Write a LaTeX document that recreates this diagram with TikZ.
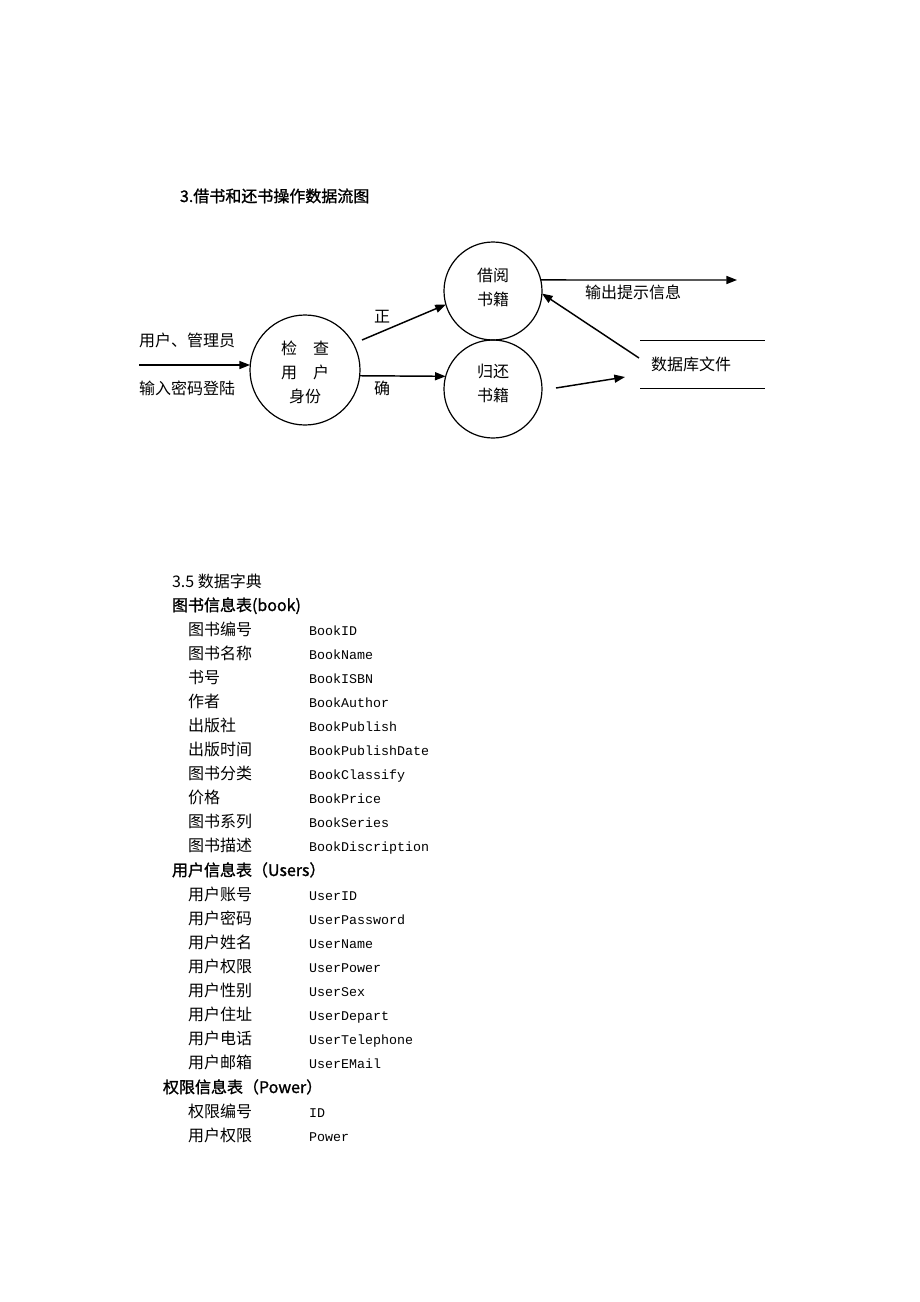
\documentclass[tikz,border=0pt]{standalone}
\usepackage{fontspec}
\setmainfont{Noto Sans CJK SC}
\setmonofont{Liberation Mono}
\newfontfamily\cjkbold[FakeBold=1.2]{Noto Sans CJK SC}
\usetikzlibrary{arrows.meta}

\begin{document}
\begin{tikzpicture}[x=0.75pt, y=-0.75pt,
		font=\fontsize{12}{18}\selectfont,
		every node/.style={inner sep=0pt, outer sep=0pt},
		txt/.style={anchor=base west},
		mid/.style={anchor=base},
		field/.style={anchor=base west, font=\ttfamily\fontsize{10}{12}\selectfont},
		head/.style={anchor=base west, font=\cjkbold\fontsize{12}{14}\selectfont},
		proc/.style={draw, circle, line width=0.9pt, minimum size=73.5pt},
		inside/.style 2 args={label={[align=center, yshift=#1]center:#2}},
		flow/.style={line width=1.1pt, -{Triangle[length=8pt, width=6pt]}}]
		%%%%% START %%%%%
		
		\useasboundingbox (0, 0) rectangle (920, 1302);
		
		\node[head] (title) at (180, 202) {3.借书和还书操作数据流图};
		
		% processes
		\node[proc, minimum size=82.5pt, inside={-1.5pt}{检\quad 查\\用\quad 户\\身份}] (check) at (305, 370) {};
		\node[proc, inside={3pt}{借阅\\书籍}] (borrow) at (493, 291) {};
		\node[proc, inside={4.5pt}{归还\\书籍}] (back) at (493, 389) {};
		
		% data store
		\draw[line width=0.7pt] (640, 340) -- (765, 340);
		\draw[line width=0.7pt] (640, 388) -- (765, 388);
		\node[txt] (store) at (651, 370) {数据库文件};
		
		\coordinate (login) at (139, 365);
		\coordinate (ok) at (362, 340);
		\coordinate (out) at (737, 280);
		\coordinate (storeout) at (639, 358);
		\coordinate (backout) at (556, 388);
		\coordinate (storein) at (625, 377);
		
		\draw[flow] (login) -- (login -| check.west);
		\draw[flow] (ok) -- (borrow.196);
		\draw[flow] (check.-6) -- (back.165);
		\draw[flow] (borrow.13) -- (out);
		\draw[flow] (storeout) -- (borrow.-3);
		\draw[flow] (backout) -- (storein);
		
		\node[txt] (user) at (139, 346) {用户、管理员};
		\node[txt] (pwd) at (139, 394) {输入密码登陆};
		\node[mid] (zheng) at (382, 322) {正};
		\node[mid] (que) at (382, 394) {确};
		\node[txt] (msg) at (585, 298) {输出提示信息};
		
		% data dictionary
		\node[txt] (dict) at (172, 587) {3.5 数据字典};
		\node[head] (book) at (172, 611) {图书信息表(book)};
		\foreach \cn/\en [count=\i from 0] in {图书编号/BookID, 图书名称/BookName, 书号/BookISBN, 作者/BookAuthor, 出版社/BookPublish, 出版时间/BookPublishDate, 图书分类/BookClassify, 价格/BookPrice, 图书系列/BookSeries, 图书描述/BookDiscription}
		{
			\node[txt] (bookcn\i) at (188, 635+24*\i) {\cn};
			\node[field] (booken\i) at (309, 635+24*\i) {\en};
		}
		
		\node[head] (users) at (172, 876) {用户信息表（Users）};
		\foreach \cn/\en [count=\i from 0] in {用户账号/UserID, 用户密码/UserPassword, 用户姓名/UserName, 用户权限/UserPower, 用户性别/UserSex, 用户住址/UserDepart, 用户电话/UserTelephone, 用户邮箱/UserEMail}
		{
			\node[txt] (usercn\i) at (188, 900+24*\i) {\cn};
			\node[field] (useren\i) at (309, 900+24*\i) {\en};
		}
		
		\node[head] (power) at (163, 1093) {权限信息表（Power）};
		\node[txt] (powercn0) at (188, 1117) {权限编号};
		\node[field] (poweren0) at (309, 1117) {ID};
		\node[txt] (powercn1) at (188, 1141) {用户权限};
		\node[field] (poweren1) at (309, 1141) {Power};
		
		%%%%% END %%%%%
\end{tikzpicture}
\end{document}
